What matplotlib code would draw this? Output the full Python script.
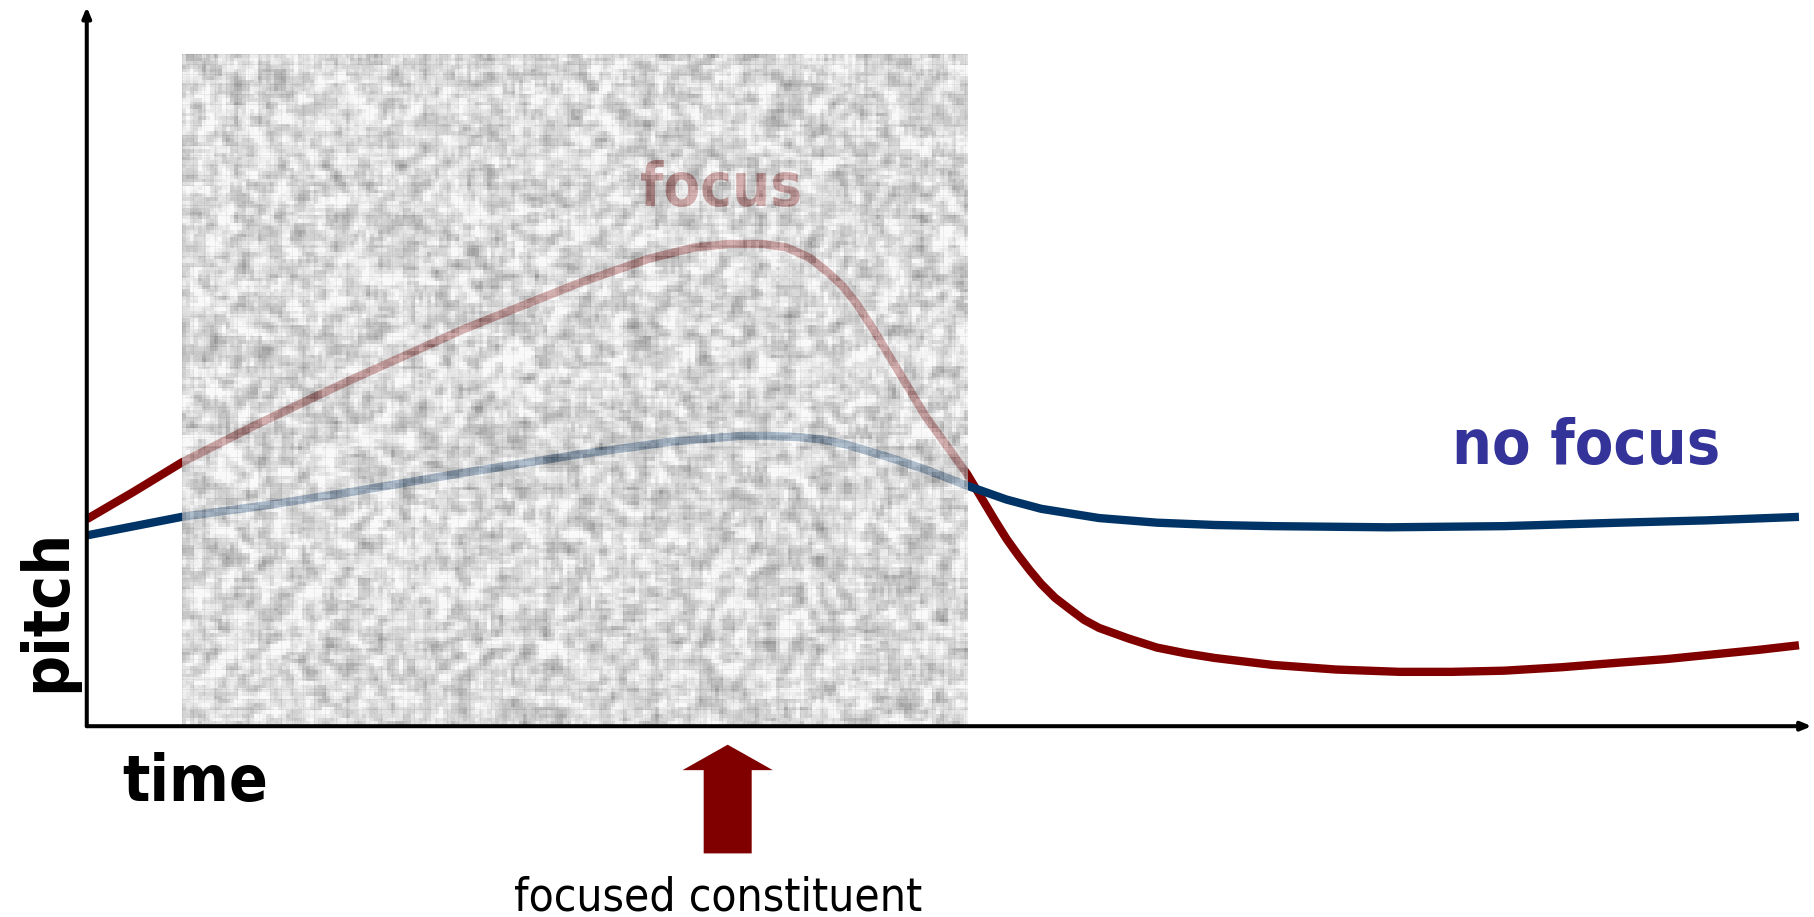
import numpy as np
import matplotlib
matplotlib.use("Agg")
import matplotlib.pyplot as plt
from matplotlib.patches import FancyArrow
from matplotlib import font_manager
from matplotlib.font_manager import FontProperties

# ---- data (time, pitch) ----
focus_t = [0, 41, 82, 145, 225, 325, 425, 485, 525, 555, 585, 605, 625, 640, 653, 665, 680,
           695, 710, 725, 743, 761, 773, 785, 795, 805, 815, 825, 837, 850, 862, 875, 900,
           925, 950, 975, 1025, 1080, 1135, 1180, 1225, 1275, 1325, 1365, 1405, 1445, 1480]
focus_p = [179, 203, 228, 260, 298, 343, 383, 404, 414, 417, 417, 414, 405, 393, 381, 366, 343,
           318, 293, 268, 243, 218, 198, 178, 162, 148, 135, 123, 111, 101, 92, 85, 76,
           68, 63, 59, 53, 49, 47, 47, 48, 51, 55, 58, 62, 66, 70]

nofocus_t = [0, 41, 82, 155, 225, 325, 425, 505, 540, 565, 590, 615, 635, 655, 675, 695, 710,
             725, 743, 761, 778, 795, 810, 825, 850, 875, 900, 925, 975, 1025, 1125, 1225,
             1325, 1400, 1480]
nofocus_p = [165, 173, 181, 191, 202, 219, 235, 246, 249, 251, 251, 250, 248, 244, 238, 232, 227,
             222, 215, 208, 202, 196, 192, 188, 184, 180, 178, 176, 174, 173, 172, 173,
             176, 178, 181]

noise_span_t = (82, 761)
noise_span_p = (0, 581)
focus_word_pos = (548, 450)
nofocus_word_pos = (1296, 227)
constituent_t = 554

RED = "#800000"
BLUE = "#003366"

# narrower face (closer to the Tahoma-like original) if available
cond_bold = FontProperties(family="DejaVu Sans", weight="bold", stretch="condensed")
cond_reg = FontProperties(family="DejaVu Sans", weight="normal", stretch="condensed")
has_cond = "Condensed" in font_manager.findfont(cond_bold, fallback_to_default=True)
big = 45 if has_cond else 41
small = 33 if has_cond else 30

def fp(base, size):
    f = base.copy()
    f.set_size(size)
    return f

fig = plt.figure(figsize=(18.14, 9.17), dpi=100)
ax = fig.add_axes([0, 0, 1, 1])
ax.set_xlim(-75, 1493)
ax.set_ylim(-165, 628)
ax.axis("off")

# curves
ax.plot(focus_t, focus_p, color=RED, lw=6, solid_joinstyle="round",
        solid_capstyle="butt", zorder=2)
ax.plot(nofocus_t, nofocus_p, color=BLUE, lw=6, solid_joinstyle="round",
        solid_capstyle="butt", zorder=2)

# "focus" label (under the noise)
ax.text(*focus_word_pos, "focus", color=RED, fontproperties=fp(cond_bold, big - 2),
        ha="center", va="baseline", zorder=2.5)

# ---- noise texture overlay (decorative) ----
W, H = 784, 733
step = 4
cw, ch = W // step + 3, H // step + 3
ii, jj = np.mgrid[0:ch, 0:cw].astype(float)
v = np.sin(ii * 12.9898 + jj * 78.233) * 43758.5453
v = v - np.floor(v)
s = np.zeros_like(v)
for di in (-1, 0, 1):
    for dj in (-1, 0, 1):
        s += np.roll(np.roll(v, di, 0), dj, 1)
s /= 9.0
s = (s - s.mean()) / s.std()
full = np.repeat(np.repeat(s, step, 0), step, 1)[:H, :W]
# fine pixel grain
fi, fj = np.mgrid[0:H, 0:W].astype(float)
grain = np.sin(fi * 3.7 + fj * 91.1) * 1753.13
grain = grain - np.floor(grain) - 0.5
g = np.clip(0.81 + 0.10 * full + 0.05 * grain, 0.42, 0.97)
g[::11, :] -= 0.07
g[:, ::11] -= 0.07
g = np.clip(g, 0.4, 0.97)
img = np.zeros((H, W, 4))
img[..., 0] = g
img[..., 1] = g
img[..., 2] = g
img[..., 3] = 0.72
ax.imshow(img, extent=(noise_span_t[0], noise_span_t[1], noise_span_p[0], noise_span_p[1]),
          aspect="auto", interpolation="nearest", zorder=3, origin="upper")

# axes with arrows
ax.annotate("", xy=(1491, 0), xytext=(0, 0),
            arrowprops=dict(arrowstyle="-|>,head_length=0.6,head_width=0.25",
                            lw=2.9, color="black", shrinkA=0, shrinkB=0), zorder=5)
ax.annotate("", xy=(0, 622), xytext=(0, 0),
            arrowprops=dict(arrowstyle="-|>,head_length=0.6,head_width=0.25",
                            lw=2.9, color="black", shrinkA=0, shrinkB=0), zorder=5)

# axis labels
ax.text(-34, 100, "pitch", rotation=90, fontproperties=fp(cond_bold, big + 1),
        ha="center", va="center", color="black")
ax.text(31, -65, "time", fontproperties=fp(cond_bold, big + 1),
        ha="left", va="baseline", color="black")

# "no focus"
ax.text(*nofocus_word_pos, "no focus", color="#333399", fontproperties=fp(cond_bold, big),
        ha="center", va="baseline")

# focused-constituent arrow
ax.add_patch(FancyArrow(constituent_t, -110, 0, 94, width=41.5, head_width=78,
                        head_length=22, length_includes_head=True,
                        color=RED, lw=0, zorder=4))
ax.text(546, -159, "focused constituent", fontproperties=fp(cond_reg, small),
        ha="center", va="baseline", color="black")

fig.savefig("out.png", dpi=100)
